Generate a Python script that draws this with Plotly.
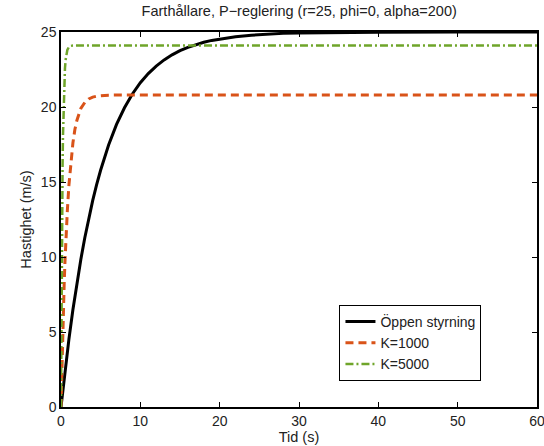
import plotly.graph_objects as go

# Open loop ("Öppen styrning")
t_open = [0, 0.5, 1, 1.5, 2, 2.5, 3, 3.5, 4, 4.5, 5, 6, 7, 8, 9, 10, 11, 12, 13, 14, 15,
          16, 17, 18, 19, 20, 22, 24, 26, 28, 30, 35, 40, 50, 60]
v_open = [0, 2.38, 4.53, 6.48, 8.24, 9.84, 11.28, 12.59, 13.77, 14.84, 15.80, 17.47, 18.84,
          19.95, 20.87, 21.62, 22.23, 22.73, 23.14, 23.48, 23.76, 23.98, 24.17, 24.32, 24.44,
          24.54, 24.69, 24.79, 24.86, 24.91, 24.94, 24.98, 24.99, 25, 25]

# K = 1000
t_k1 = [0, 0.1, 0.2, 0.3, 0.4, 0.5, 0.6, 0.8, 1.0, 1.25, 1.5, 1.75, 2, 2.5, 3, 3.5, 4, 4.5,
        5, 6, 7, 60]
v_k1 = [0, 2.44, 4.6, 6.5, 8.2, 9.7, 11.0, 13.1, 14.8, 16.4, 17.6, 18.5, 19.1, 19.9, 20.3,
        20.54, 20.66, 20.72, 20.76, 20.79, 20.8, 20.8]

# K = 5000
t_k5 = [0, 0.05, 0.1, 0.15, 0.2, 0.25, 0.3, 0.35, 0.4, 0.5, 0.6, 0.7, 0.8, 1.0, 1.2, 1.5, 60]
v_k5 = [0, 5.9, 10.3, 13.6, 16.2, 18.1, 19.5, 20.7, 21.5, 22.6, 23.2, 23.6, 23.8, 24.0,
        24.07, 24.1, 24.1]

names = ["Öppen styrning", "K=1000", "K=5000"]
x_ticks = [0, 10, 20, 30, 40, 50, 60]
y_ticks = [0, 5, 10, 15, 20, 25]

fig = go.Figure()
fig.add_trace(go.Scatter(x=t_open, y=v_open, mode="lines", name=names[0],
                         line=dict(color="black", width=3)))
fig.add_trace(go.Scatter(x=t_k1, y=v_k1, mode="lines", name=names[1],
                         line=dict(color="#D95319", width=3, dash="8px,5px")))
fig.add_trace(go.Scatter(x=t_k5, y=v_k5, mode="lines", name=names[2],
                         line=dict(color="#6FA52A", width=2.5, dash="8px,3px,2px,3px")))

axis_common = dict(showgrid=False, zeroline=False, showline=True, linecolor="black",
                   linewidth=1.5, mirror="ticks", ticks="inside", ticklen=5,
                   tickcolor="black", tickwidth=1, automargin=False,
                   ticklabeloverflow="allow",
                   tickfont=dict(family="Liberation Sans, Arial", size=14, color="#222"))

fig.update_layout(
    width=544, height=446,
    margin=dict(l=61, r=7, t=32, b=39),
    paper_bgcolor="white", plot_bgcolor="white",
    font=dict(family="Liberation Sans, Arial", color="#222"),
    title=dict(text="Farthållare, P−reglering (r=25, phi=0, alpha=200)",
               x=0.55, xanchor="center", y=0.975, yanchor="middle",
               font=dict(size=14.5, color="#222")),
    xaxis=dict(range=[0, 60], tickvals=x_ticks,
               title=dict(text="Tid (s)", font=dict(size=14.5), standoff=0),
               **axis_common),
    yaxis=dict(range=[0, 25], tickvals=y_ticks,
               title=dict(text="Hastighet (m/s)", font=dict(size=14.5), standoff=6),
               **axis_common),
    legend=dict(x=0.585, y=0.272, xanchor="left", yanchor="top",
                bordercolor="black", borderwidth=1, bgcolor="white",
                font=dict(size=14, color="#222"), tracegroupgap=0,
                itemwidth=30),
    showlegend=True,
)

fig.write_html("out.html")
